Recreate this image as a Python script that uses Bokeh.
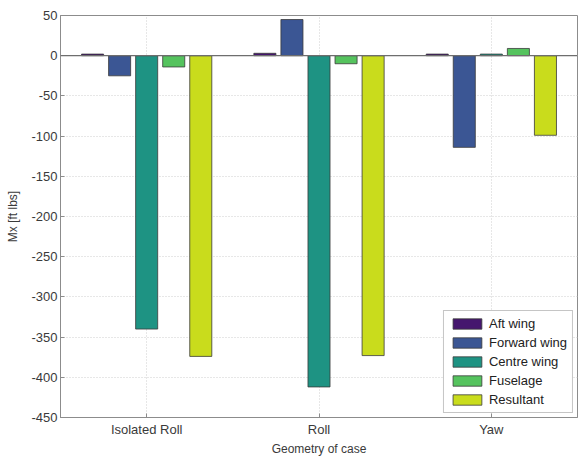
from bokeh.plotting import figure
from bokeh.models import Range1d, ColumnDataSource, Legend, LegendItem, Span, FixedTicker
from bokeh.transform import dodge
from bokeh.embed import file_html
from bokeh.resources import INLINE

categories = ["Isolated Roll", "Roll", "Yaw"]
series_names = ["Aft wing", "Forward wing", "Centre wing", "Fuselage", "Resultant"]
aft_wing = [2, 3, 2]
forward_wing = [-25, 45, -114]
centre_wing = [-340, -412, 2]
fuselage = [-14, -10, 9]
resultant = [-374, -373, -99]
colors = ["#45166e", "#3b5694", "#1e9383", "#55c35e", "#c9dc1c"]
y_ticks = [50, 0, -50, -100, -150, -200, -250, -300, -350, -400, -450]

series = [aft_wing, forward_wing, centre_wing, fuselage, resultant]
xpos = [1, 2, 3]
data = {"x": xpos}
for i, s in enumerate(series):
    data[f"s{i}"] = s
src = ColumnDataSource(data)

p = figure(width=578, height=458, output_backend="svg", toolbar_location=None,
           x_range=Range1d(0.5, 3.5), y_range=Range1d(-450, 50),
           min_border_left=60, min_border_right=1, min_border_top=15, min_border_bottom=33)
p.background_fill_color = "white"
p.border_fill_color = "white"
p.outline_line_color = "#8c8c8c"

bw = 0.128
step = 0.157
items = []
for i, name in enumerate(series_names):
    r = p.vbar(x=dodge("x", (i - 2) * step, range=p.x_range), top=f"s{i}", bottom=0, width=bw,
               source=src, fill_color=colors[i], line_color="#3a3a3a", line_width=0.8)
    items.append(LegendItem(label=name, renderers=[r]))

p.add_layout(Span(location=0, dimension="width", line_color="#6e6e6e", line_width=1.2))

p.xaxis.ticker = FixedTicker(ticks=xpos)
p.xaxis.major_label_overrides = {i + 1: c for i, c in enumerate(categories)}
p.yaxis.ticker = FixedTicker(ticks=y_ticks)
p.yaxis.major_label_overrides = {t: str(t) for t in y_ticks}
for ax in (p.xaxis, p.yaxis):
    ax.axis_line_color = "#8c8c8c"
    ax.major_tick_line_color = "#8c8c8c"
    ax.major_tick_in = 4
    ax.major_tick_out = 0
    ax.minor_tick_line_color = None
    ax.major_label_text_font = "Liberation Sans"
    ax.major_label_text_font_size = "13px"
    ax.major_label_text_color = "#3a3a3a"
    ax.axis_label_text_font = "Liberation Sans"
    ax.axis_label_text_font_size = "12px"
    ax.axis_label_text_font_style = "normal"
    ax.axis_label_text_color = "#3a3a3a"
p.xaxis.axis_label = "Geometry of case"
p.yaxis.axis_label = "Mx [ft lbs]"
p.xaxis.major_label_standoff = 4
p.xaxis.axis_label_standoff = 2
p.yaxis.major_label_standoff = 3
p.yaxis.axis_label_standoff = 8

for g in (p.xgrid, p.ygrid):
    g.grid_line_color = "#cfcfcf"
    g.grid_line_dash = "1 2"
    g.grid_line_width = 1
p.xgrid.ticker = FixedTicker(ticks=xpos)
p.ygrid.ticker = FixedTicker(ticks=y_ticks)

legend = Legend(items=items, location="bottom_right")
legend.glyph_width = 36
legend.glyph_height = 13
legend.label_text_font = "Liberation Sans"
legend.label_text_font_size = "13px"
legend.label_text_color = "#222222"
legend.label_height = 13
legend.spacing = 4
legend.padding = 5
legend.margin = 4
legend.label_standoff = 4
legend.border_line_color = "#8c8c8c"
legend.background_fill_color = "white"
legend.background_fill_alpha = 1
p.add_layout(legend, "center")

open("out.html", "w").write(file_html(p, INLINE))
